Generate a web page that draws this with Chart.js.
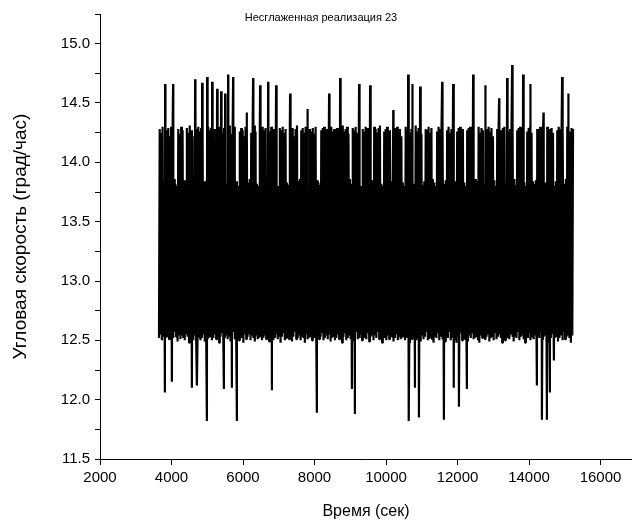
<!DOCTYPE html>
<html>
<head>
<meta charset="utf-8">
<script src="https://cdn.jsdelivr.net/npm/chart.js@4.4.1/dist/chart.umd.min.js"></script>
<style>
html,body{margin:0;padding:0;background:#fff;}
#wrap{position:relative;width:632px;height:523px;}
</style>
</head>
<body>
<div id="wrap"><canvas id="c" width="632" height="523"></canvas></div>
<script>
// ---- data ----
const chartTitle = "Несглаженная реализация 23";
const xTitle = "Время (сек)";
const yTitle = "Угловая скорость (град/час)";

// sampling grid of the oscillation (seconds)
const sampleStart = 3650;
const sampleStep = 20;

// peaks of each oscillation cycle (град/час)
const cycleHighs = [
14.28,14.25,14.30,13.84,13.81,14.27,14.29,14.22,14.30,14.26,
13.86,13.82,13.80,14.28,14.24,14.30,14.27,13.85,13.83,14.29,
14.25,14.31,14.27,14.22,13.82,13.80,14.28,14.30,14.26,14.29,
14.24,13.84,13.81,13.86,14.30,14.27,14.29,14.23,14.28,13.83,
13.80,14.26,14.30,14.28,14.25,14.29,13.85,13.82,14.27,14.31,
14.24,14.28,14.30,13.81,13.84,13.80,14.26,14.29,14.27,14.22,
14.30,14.28,13.83,13.86,14.25,14.29,14.31,14.26,13.82,13.80,
14.28,14.24,14.30,14.27,14.29,13.84,13.81,14.26,14.30,14.23,
14.28,13.85,13.82,13.80,14.29,14.27,14.30,14.25,14.28,13.83,
13.81,14.30,14.26,14.29,14.22,14.28,14.31,13.84,13.86,14.27,
14.29,14.25,14.30,13.82,13.80,14.28,14.26,14.29,14.24,14.30,
13.85,13.83,13.81,14.27,14.29,14.30,14.25,14.28,13.82,13.84,
14.30,14.26,14.28,14.22,14.29,14.27,13.80,13.83,14.31,14.26,
14.28,14.30,14.24,13.86,13.82,14.29,14.27,14.30,14.25,13.81,
13.84,13.80,14.28,14.26,14.30,14.29,14.23,14.27,13.83,13.85,
14.30,14.28,14.25,14.29,14.31,13.82,13.80,14.26,14.28,14.30,
14.24,14.27,13.84,13.81,13.86,14.29,14.30,14.26,14.28,14.22,
13.83,13.80,14.30,14.27,14.29,14.25,14.28,13.85,13.82,14.31,
14.26,14.29,14.30,14.24,13.81,13.84,14.28,14.27,14.30,14.25,
14.29,13.86,13.83,13.80,14.26,14.30,14.28,14.22,14.29,13.82,
13.85,14.27,14.30,14.25,14.28,14.31,13.81,13.84,14.26,14.29,
14.30,14.24,14.28,13.83,13.80,14.27,14.29,14.30,14.26,14.28,
13.82,13.86,13.84,14.30,14.25,14.29,14.27,13.81,13.83,14.28,
14.30,14.26,14.29,14.22,13.85,13.80,14.28,14.31,14.27,14.24,
14.29,14.30,13.82,13.84,14.26,14.28,14.30,14.25,13.86,13.81,
14.27,14.29,14.30,14.28,14.24,13.83,13.80,14.26,14.29,14.30,
14.25,13.84,13.82,13.85,14.28,14.27,14.30,14.29,14.23,13.81,
13.83,14.30,14.26,14.28,14.29,14.25,13.80,13.84,14.27,14.30,
14.28,14.24,14.29,13.82,13.86,14.30,14.27,14.26,14.29,14.28
];

// troughs of each oscillation cycle (град/час)
const cycleLows = [
12.52,12.55,12.50,12.54,12.49,12.53,12.56,12.51,12.54,12.50,
12.52,12.57,12.53,12.49,12.55,12.51,12.54,12.52,12.50,12.56,
12.53,12.48,12.55,12.52,12.50,12.54,12.51,12.57,12.53,12.50,
12.52,12.55,12.49,12.54,12.51,12.53,12.56,12.50,12.52,12.55,
12.51,12.54,12.48,12.53,12.56,12.50,12.52,12.55,12.51,12.54,
12.49,12.53,12.57,12.51,12.52,12.55,12.50,12.54,12.52,12.48,
12.55,12.51,12.53,12.56,12.50,12.54,12.52,12.49,12.55,12.51,
12.53,12.57,12.50,12.52,12.54,12.51,12.55,12.49,12.53,12.56,
12.50,12.52,12.55,12.51,12.54,12.48,12.53,12.56,12.50,12.52,
12.55,12.51,12.54,12.49,12.53,12.57,12.51,12.52,12.55,12.50,
12.54,12.52,12.48,12.55,12.51,12.53,12.56,12.50,12.54,12.52,
12.49,12.55,12.51,12.53,12.57,12.50,12.52,12.54,12.51,12.55,
12.49,12.53,12.56,12.50,12.52,12.55,12.51,12.54,12.48,12.53,
12.56,12.50,12.52,12.55,12.51,12.54,12.49,12.53,12.57,12.51,
12.52,12.55,12.50,12.54,12.52,12.51,12.56,12.49,12.53,12.55,
12.50,12.54,12.52,12.57,12.51,12.53,12.48,12.55,12.52,12.50,
12.54,12.51,12.56,12.53,12.49,12.52,12.55,12.50,12.54,12.51,
12.53,12.57,12.50,12.52,12.55,12.48,12.54,12.51,12.53,12.56,
12.50,12.52,12.54,12.49,12.55,12.51,12.53,12.57,12.50,12.52,
12.55,12.51,12.48,12.54,12.52,12.56,12.50,12.53,12.51,12.55,
12.49,12.54,12.52,12.57,12.50,12.53,12.55,12.51,12.48,12.54,
12.52,12.56,12.50,12.53,12.51,12.55,12.49,12.54,12.52,12.57,
12.51,12.53,12.55,12.50,12.48,12.54,12.52,12.56,12.51,12.53,
12.55,12.49,12.52,12.54,12.50,12.57,12.51,12.53,12.55,12.52,
12.48,12.54,12.50,12.56,12.52,12.51,12.55,12.53,12.49,12.54,
12.52,12.57,12.50,12.53,12.55,12.51,12.48,12.54,12.52,12.56,
12.50,12.53,12.51,12.55,12.49,12.54,12.52,12.57,12.51,12.53,
12.55,12.50,12.48,12.54,12.52,12.56,12.51,12.53,12.55,12.49,
12.52,12.54,12.50,12.57,12.51,12.53,12.55,12.52,12.48,12.54
];

// upward outliers
const spikeUpTimes = [3818,4042,4657,4853,4993,5133,5272,5384,5496,5580,5720,6100,6279,6475,6699,6923,7314,7800,8405,8713,9244,9552,10200,10615,10727,10950,11566,11874,12433,12769,13160,13384,13524,13831,14027,14400,14922,15090];
const spikeUpValues = [14.66,14.66,14.70,14.67,14.72,14.68,14.62,14.60,14.58,14.74,14.72,14.42,14.71,14.65,14.68,14.65,14.58,14.45,14.58,14.71,14.66,14.65,14.44,14.74,14.66,14.64,14.68,14.66,14.74,14.65,14.54,14.71,14.82,14.74,14.66,14.42,14.72,14.58];

// downward outliers
const spikeDownTimes = [3818,4014,4573,4713,4993,5468,5692,5832,6811,8069,9048,9132,10643,10811,10923,11622,11902,12042,12265,14223,14363,14503,14587,14699];
const spikeDownValues = [12.06,12.15,12.10,12.12,11.82,12.09,12.10,11.82,12.08,11.89,12.09,11.88,11.82,12.10,11.85,11.83,12.10,11.94,12.09,12.12,11.83,11.83,12.06,12.33];

// axis ticks
const xTickValues = [2000,4000,6000,8000,10000,12000,14000,16000];
const yTickValues = [11.5,11.75,12.0,12.25,12.5,12.75,13.0,13.25,13.5,13.75,14.0,14.25,14.5,14.75,15.0,15.25];
const yLabelled = [11.5,12.0,12.5,13.0,13.5,14.0,14.5,15.0];
const xMin = 2000, xMax = 16880;
const yMin = 11.5, yMax = 15.25;

// ---- build series ----
const pts = [];
for (let k = 0; k < cycleLows.length; k++) {
  pts.push({x: sampleStart + sampleStep * (2 * k), y: cycleLows[k]});
  pts.push({x: sampleStart + sampleStep * (2 * k + 1), y: cycleHighs[k]});
}
spikeUpTimes.forEach((t, i) => pts.push({x: t + 3, y: spikeUpValues[i]}));
spikeDownTimes.forEach((t, i) => pts.push({x: t - 3, y: spikeDownValues[i]}));
pts.sort((a, b) => a.x - b.x);

const titlePlugin = {
  id: 'overlayTitle',
  afterDraw(chart) {
    const ctx = chart.ctx;
    ctx.save();
    ctx.font = '11px "Liberation Sans", Arial, sans-serif';
    ctx.fillStyle = '#000';
    ctx.textAlign = 'center';
    ctx.textBaseline = 'middle';
    ctx.fillText(chartTitle, 321, 18);
    ctx.restore();
  }
};

const FONT = '"Liberation Sans", Arial, sans-serif';

new Chart(document.getElementById('c'), {
  type: 'line',
  data: {
    datasets: [{
      data: pts,
      borderColor: '#000',
      borderWidth: 2.2,
      borderJoinStyle: 'bevel',
      pointRadius: 0,
      tension: 0,
      fill: false
    }]
  },
  options: {
    responsive: false,
    animation: false,
    events: [],
    layout: {padding: {top: 12, left: 0, right: 0, bottom: 0}},
    plugins: {legend: {display: false}, tooltip: {enabled: false}, title: {display: false}},
    scales: {
      x: {
        type: 'linear',
        min: xMin, max: xMax,
        afterFit(s) { s.height = 64; },
        afterBuildTicks(s) { s.ticks = xTickValues.map(v => ({value: v})); },
        border: {display: true, color: '#000', width: 1},
        grid: {display: true, drawOnChartArea: false, drawTicks: true, tickLength: 6, color: '#000'},
        ticks: {autoSkip: false, maxRotation: 0, color: '#000', padding: 4,
          font: {family: FONT, size: 15},
          callback: v => String(v)},
        title: {display: true, text: xTitle, color: '#000', padding: {top: 4, bottom: 2},
          font: {family: FONT, size: 16}}
      },
      y: {
        type: 'linear',
        min: yMin, max: yMax,
        afterFit(s) { s.width = 100; },
        afterBuildTicks(s) { s.ticks = yTickValues.map(v => ({value: v})); },
        border: {display: true, color: '#000', width: 1},
        grid: {display: true, drawOnChartArea: false, drawTicks: true, tickLength: 5, color: '#000'},
        ticks: {autoSkip: false, color: '#000', padding: 5,
          font: {family: FONT, size: 15},
          callback: v => (yLabelled.includes(v) ? v.toFixed(1) : '')},
        title: {display: true, text: yTitle, color: '#000', padding: {top: 9, bottom: 0},
          font: {family: FONT, size: 19}}
      }
    }
  },
  plugins: [titlePlugin]
});
</script>
</body>
</html>
